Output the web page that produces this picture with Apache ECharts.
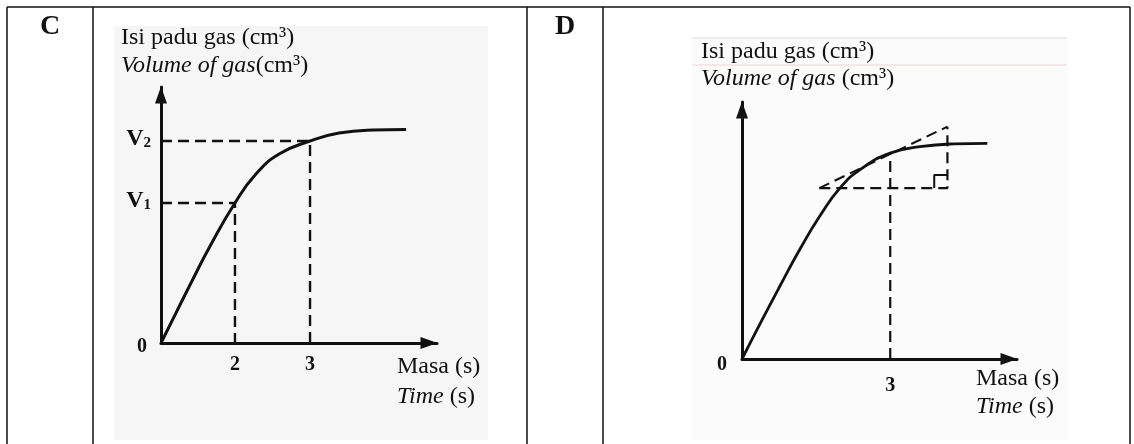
<!DOCTYPE html>
<html>
<head>
<meta charset="utf-8">
<title>Isi padu gas / Volume of gas</title>
<script src="https://cdn.jsdelivr.net/npm/echarts@6.0.0/dist/echarts.min.js"></script>
<style>
html, body { margin: 0; padding: 0; background: #fff; }
#chart { width: 1134px; height: 444px; }
</style>
</head>
<body>
<div id="chart"></div>
<script>
// Both graphs are schematic: each axis runs 0..10 drawing units from the origin to the arrow tip.

// graph C
const timeC = [0, 0.54, 1.16, 1.76, 2.68, 3.44, 4.28, 5.40, 6.45, 7.68, 8.88];
const volC = [0, 1.17, 2.50, 3.75, 5.47, 6.60, 7.38, 7.89, 8.20, 8.32, 8.34];
const markTimeC = [2.68, 5.40];
const markTimeLabelC = ['2', '3'];
const markVolC = [5.47, 7.89];
const volTickC = [0, 5.47, 7.89];
const volTickLabelC = ['0', 'V1', 'V2'];

// graph D
const timeD = [0, 0.65, 1.38, 2.11, 2.83, 3.56, 4.36, 5.39, 6.47, 7.70, 8.92];
const volD = [0, 1.36, 2.84, 4.28, 5.56, 6.65, 7.42, 8.01, 8.26, 8.37, 8.39];
const markTimeD = [5.39];
const markTimeLabelD = ['3'];
const markVolD = [8.01];
const volTickD = [0];
const volTickLabelD = ['0'];
const tangentD = [[2.81, 6.65], [7.47, 9.04]];

const FONT = '"Liberation Serif", "Times New Roman", serif';
const INK = '#111';
const TXT = 24;

function pairs(xs, ys) {
  return xs.map(function (x, i) { return [x, ys[i]]; });
}

function labeller(values, labels) {
  return function (v) {
    for (let i = 0; i < values.length; i++) {
      if (Math.abs(values[i] - v) < 1e-6) {
        const s = labels[i];
        if (s === '0') return '{z|0}';
        if (s.charAt(0) === 'V') return '{v|V}{s|' + s.slice(1) + '}';
        return s;
      }
    }
    return '';
  };
}

function arrowAxis(extra) {
  return Object.assign({
    type: 'value',
    min: 0,
    max: 10,
    axisLine: {
      show: true,
      onZero: false,
      symbol: ['none', 'triangle'],
      symbolSize: [12, 17],
      symbolOffset: [0, -8],
      lineStyle: { color: INK, width: 3 }
    },
    axisTick: { show: false },
    splitLine: { show: false },
    nameMoveOverlap: false
  }, extra);
}

function timeName(lh, padTop, gap) {
  return {
    name: '{n|Masa (s)}\n{i|Time}{n| (s)}',
    nameLocation: 'end',
    nameGap: gap,
    nameTextStyle: {
      align: 'left',
      verticalAlign: 'top',
      fontFamily: FONT,
      fontSize: TXT,
      color: INK,
      padding: [padTop, 0, 0, 0],
      rich: {
        n: { fontFamily: FONT, fontSize: TXT, lineHeight: lh, color: INK },
        i: { fontFamily: FONT, fontSize: TXT, fontStyle: 'italic', lineHeight: lh, color: INK }
      }
    }
  };
}

function tickLabel(values, labels, margin) {
  return {
    customValues: values,
    formatter: labeller(values, labels),
    margin: margin,
    fontFamily: FONT,
    fontWeight: 'bold',
    fontSize: 20,
    color: INK
  };
}

function volLabel(values, labels, zeroPad) {
  const l = tickLabel(values, labels, 10);
  l.rich = {
    z: { fontFamily: FONT, fontWeight: 'bold', fontSize: 20, color: INK, padding: zeroPad },
    v: { fontFamily: FONT, fontWeight: 'bold', fontSize: 24, color: INK, padding: [0, 0, 4, 0] },
    s: { fontFamily: FONT, fontWeight: 'bold', fontSize: 15, color: INK, padding: [4, 0, 0, 0] }
  };
  return l;
}

function dashed(data, xi, width) {
  return {
    type: 'line', xAxisIndex: xi, yAxisIndex: xi, data: data,
    showSymbol: false, silent: true,
    lineStyle: { color: INK, width: width, type: [11, 6] }
  };
}

function curve(data, xi, width) {
  return {
    type: 'line', xAxisIndex: xi, yAxisIndex: xi, data: data,
    showSymbol: false, silent: true, smooth: 0.5,
    lineStyle: { color: INK, width: width }
  };
}

const series = [];
markTimeC.forEach(function (t, i) {
  series.push(dashed([[0, markVolC[i]], [t, markVolC[i]], [t, 0]], 0, 2.4));
});
series.push(curve(pairs(timeC, volC), 0, 3));

markTimeD.forEach(function (t, i) {
  series.push(dashed([[t, 0], [t, markVolD[i]]], 1, 2.2));
});
const a = tangentD[0], b = tangentD[1];
series.push(dashed([a, [b[0], a[1]], b], 1, 2.2));
series.push(dashed([a, b], 1, 2));
const sq = 0.48;
series.push({
  type: 'line', xAxisIndex: 1, yAxisIndex: 1, silent: true, showSymbol: false,
  data: [[b[0] - sq, a[1]], [b[0] - sq, a[1] + sq * 1.07], [b[0], a[1] + sq * 1.07]],
  lineStyle: { color: INK, width: 2 }
});
series.push(curve(pairs(timeD, volD), 1, 2.8));

function vline(x, y1, y2) {
  return { type: 'line', shape: { x1: x, y1: y1, x2: x, y2: y2 }, style: { stroke: INK, lineWidth: 1.5 } };
}

const titleRich = function (lh) {
  return {
    n: { font: TXT + 'px ' + FONT, lineHeight: lh, fill: INK },
    i: { font: 'italic ' + TXT + 'px ' + FONT, lineHeight: lh, fill: INK }
  };
};

const graphic = [
  { type: 'rect', z: -10, shape: { x: 114, y: 26, width: 374, height: 414 }, style: { fill: '#f6f6f6' } },
  { type: 'rect', z: -10, shape: { x: 692, y: 38, width: 375, height: 402 }, style: { fill: '#fbfbfb' } },
  { type: 'line', z: -9, shape: { x1: 692, y1: 38, x2: 1067, y2: 38 }, style: { stroke: '#d9d9d9', lineWidth: 1 } },
  { type: 'line', z: -9, shape: { x1: 692, y1: 65, x2: 1067, y2: 65 }, style: { stroke: '#ecd3d3', lineWidth: 1 } },
  { type: 'line', shape: { x1: 7, y1: 7, x2: 1130, y2: 7 }, style: { stroke: INK, lineWidth: 1.5 } },
  vline(7, 7, 444), vline(93, 7, 444), vline(527, 7, 444), vline(603, 7, 444), vline(1130, 7, 444),
  { type: 'text', x: 50, y: 27, style: { text: 'C', font: 'bold 28px ' + FONT, fill: INK, align: 'center', verticalAlign: 'middle' } },
  { type: 'text', x: 565, y: 27, style: { text: 'D', font: 'bold 28px ' + FONT, fill: INK, align: 'center', verticalAlign: 'middle' } },
  { type: 'text', x: 121, y: 24, style: { text: '{n|Isi padu gas (cm³)}\n{i|Volume of gas}{n|(cm³)}', rich: titleRich(28), font: TXT + 'px ' + FONT, fill: INK, align: 'left', verticalAlign: 'top' } },
  { type: 'text', x: 701, y: 38, style: { text: '{n|Isi padu gas (cm³)}\n{i|Volume of gas}{n| (cm³)}', rich: titleRich(27), font: TXT + 'px ' + FONT, fill: INK, align: 'left', verticalAlign: 'top' } }
];

const chart = echarts.init(document.getElementById('chart'), null, { renderer: 'canvas' });
chart.setOption({
  animation: false,
  backgroundColor: '#fff',
  grid: [
    { left: 161, top: 87, width: 276, height: 256, outerBoundsMode: 'none' },
    { left: 742, top: 102, width: 275, height: 257, outerBoundsMode: 'none' }
  ],
  xAxis: [
    arrowAxis(Object.assign({ gridIndex: 0, axisLabel: tickLabel(markTimeC, markTimeLabelC, 12) }, timeName(30, 9, -40))),
    arrowAxis(Object.assign({ gridIndex: 1, axisLabel: tickLabel(markTimeD, markTimeLabelD, 17) }, timeName(28, 6, -41)))
  ],
  yAxis: [
    arrowAxis({ gridIndex: 0, axisLabel: volLabel(volTickC, volTickLabelC, [7, 4, 0, 0]) }),
    arrowAxis({ gridIndex: 1, axisLabel: volLabel(volTickD, volTickLabelD, [12, 5, 0, 0]) })
  ],
  graphic: graphic,
  series: series
});
</script>
</body>
</html>
